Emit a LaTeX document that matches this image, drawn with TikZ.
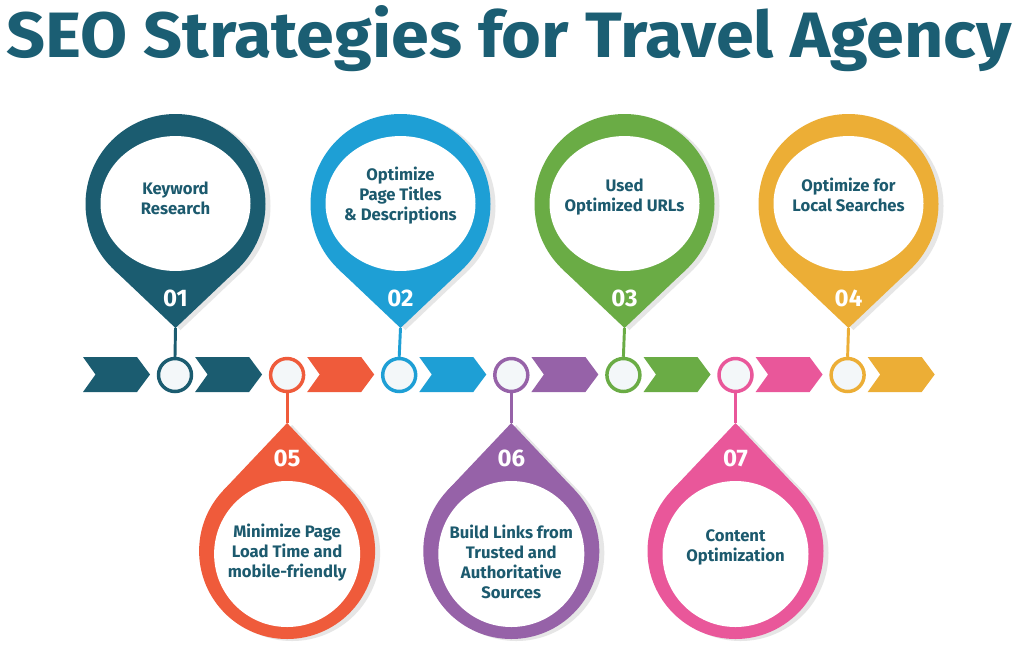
\documentclass[tikz,border=0pt]{standalone}
\usepackage{fontspec}
\setmainfont{Fira Sans}
\usetikzlibrary{calc}
\definecolor{cteal}{HTML}{1B5C70}
\definecolor{ctitle}{HTML}{1B5E73}
\definecolor{ctext}{HTML}{1C5A6E}
\definecolor{cblue}{HTML}{1E9FD5}
\definecolor{cgreen}{HTML}{6AAC45}
\definecolor{cyellow}{HTML}{ECAE36}
\definecolor{corange}{HTML}{EF5B3B}
\definecolor{cpurple}{HTML}{9662A8}
\definecolor{cpink}{HTML}{E9579A}
\definecolor{cdot}{HTML}{F3F7F9}
\definecolor{cshadow}{HTML}{E6E6E6}
\tikzset{
  pinnum/.style={text=white, font=\bfseries\fontsize{18}{18}\selectfont, inner sep=0pt},
  pintext/.style={text=ctext, font=\bfseries\fontsize{12.5}{15}\selectfont, align=center, inner sep=0pt},
  dotnode/.style={circle, draw=#1, line width=2.6pt, fill=cdot, minimum size=24.75pt, inner sep=0pt},
  stemline/.style={draw=#1, line width=2.2pt},
}
% top pin: #1 x, #2 colour, #3 name
\newcommand\toppin[3]{%
  \fill[cshadow] (#1+5,328+2) -- (#1-61.9+5,269.3+2) -- (#1+61.9+5,269.3+2) -- cycle;
  \fill[cshadow] (#1+5,204+2) circle[radius=67.5pt];
  \fill[#2] (#1,328) -- (#1-61.9,269.3) -- (#1+61.9,269.3) -- cycle;
  \fill[#2] (#1,204) circle[radius=67.5pt];
  \fill[white] (#1,203.5) ellipse[x radius=56.25pt, y radius=50.6pt];
  \coordinate (#3) at (#1,328);
}
\newcommand\botpin[3]{%
  \fill[cshadow] (#1+5,423+2) -- (#1-63.9+5,490.5+2) -- (#1+63.9+5,490.5+2) -- cycle;
  \fill[cshadow] (#1+5,551+2) circle[radius=66pt];
  \fill[#2] (#1,423) -- (#1-63.9,490.5) -- (#1+63.9,490.5) -- cycle;
  \fill[#2] (#1,551) circle[radius=66pt];
  \fill[white] (#1,554) circle[radius=54.75pt];
  \coordinate (#3) at (#1,423);
}
\newcommand\chev[2]{%
  \fill[#2] (#1,357) -- (#1+54,357) -- (#1+67,374.5) -- (#1+54,392) -- (#1,392) -- (#1+12.5,374.5) -- cycle;
}
\begin{document}
\begin{tikzpicture}[x=0.75pt,y=-0.75pt]
\useasboundingbox (0,0) rectangle (1024,651);
\fill[white] (0,0) rectangle (1024,651);
% title
\node[anchor=base west, inner sep=0pt, text=ctitle] (title) at (6,57)
  {\resizebox{754pt}{39pt}{\bfseries SEO Strategies for Travel Agency}};
% chevrons
\chev{83}{cteal}
\chev{195.1}{cteal}
\chev{307.2}{corange}
\chev{419.3}{cblue}
\chev{531.4}{cpurple}
\chev{643.5}{cgreen}
\chev{755.6}{cpink}
\chev{867.7}{cyellow}
% pins
\toppin{175.5}{cteal}{t1}
\toppin{400.5}{cblue}{t2}
\toppin{624.5}{cgreen}{t3}
\toppin{848.5}{cyellow}{t4}
\botpin{287.1}{corange}{t5}
\botpin{511.3}{cpurple}{t6}
\botpin{735.5}{cpink}{t7}
% dots
\node[dotnode=cteal] (d1) at (175,375) {};
\node[dotnode=corange] (d5) at (287.1,375) {};
\node[dotnode=cblue] (d2) at (399.2,375) {};
\node[dotnode=cpurple] (d6) at (511.3,375) {};
\node[dotnode=cgreen] (d3) at (623.4,375) {};
\node[dotnode=cpink] (d7) at (735.5,375) {};
\node[dotnode=cyellow] (d4) at (847.6,375) {};
% stems
\draw[stemline=cteal] (t1) -- (d1.north);
\draw[stemline=cblue] (t2) -- (d2.north);
\draw[stemline=cgreen] (t3) -- (d3.north);
\draw[stemline=cyellow] (t4) -- (d4.north);
\draw[stemline=corange] (t5) -- (d5.south);
\draw[stemline=cpurple] (t6) -- (d6.south);
\draw[stemline=cpink] (t7) -- (d7.south);
% numbers
\node[pinnum] (n1) at (175.5,298) {01};
\node[pinnum] (n2) at (400.5,298) {02};
\node[pinnum] (n3) at (624.5,298) {03};
\node[pinnum] (n4) at (848.5,298) {04};
\node[pinnum] (n5) at (287.1,458) {05};
\node[pinnum] (n6) at (511.3,458) {06};
\node[pinnum] (n7) at (735.5,458) {07};
% texts
\node[pintext] (x1) at (175.5,198) {Keyword\\Research};
\node[pintext] (x2) at (400.5,196) {Optimize\\Page Titles\\\& Descriptions};
\node[pintext] (x3) at (624.5,197) {Used\\Optimized URLs};
\node[pintext] (x4) at (848.5,195) {Optimize for\\Local Searches};
\node[pintext] (x5) at (287.1,553) {Minimize Page\\Load Time and\\mobile-friendly};
\node[pintext] (x6) at (511.3,562) {Build Links from\\Trusted and\\Authoritative\\Sources};
\node[pintext] (x7) at (735.5,547) {Content\\Optimization};
\end{tikzpicture}
\end{document}
